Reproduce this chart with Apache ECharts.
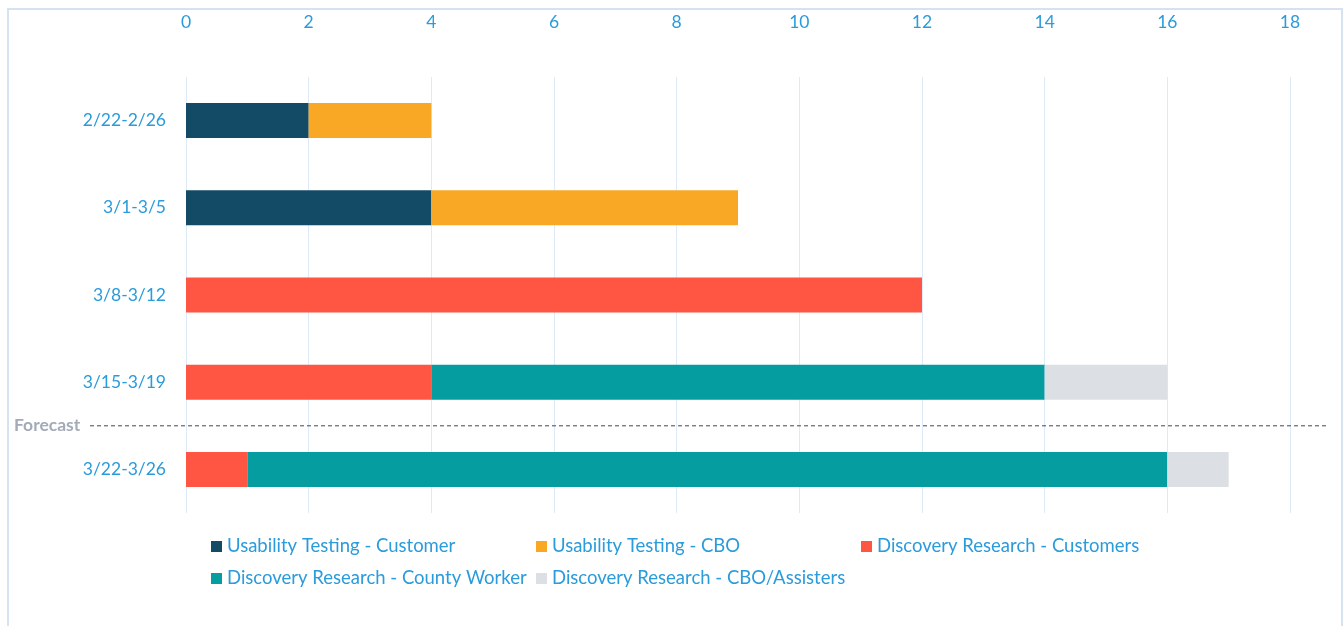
<!DOCTYPE html>
<html><head><meta charset="utf-8">
<script src="https://cdn.jsdelivr.net/npm/echarts@6/dist/echarts.min.js"></script>
<style>html,body{margin:0;padding:0;background:#fff}#c{width:1343px;height:626px}</style>
</head><body><div id="c"></div>
<script>
const categories = ['2/22-2/26', '3/1-3/5', '3/8-3/12', '3/15-3/19', '3/22-3/26'];
const seriesNames = ['Usability Testing - Customer', 'Usability Testing - CBO', 'Discovery Research - Customers', 'Discovery Research - County Worker', 'Discovery Research - CBO/Assisters'];
const utCustomer = [2, 4, 0, 0, 0];
const utCBO = [2, 5, 0, 0, 0];
const drCustomers = [0, 0, 12, 4, 1];
const drCountyWorker = [0, 0, 0, 10, 15];
const drCBOAssisters = [0, 0, 0, 2, 1];
const colors = ['#134A66', '#F9A825', '#FF5543', '#069DA0', '#DCDFE3'];
const forecastLabel = 'Forecast';

const values = [utCustomer, utCBO, drCustomers, drCountyWorker, drCBOAssisters];
const FONT = 'Lato';
const BLUE = '#2A9BDB';

const chart = echarts.init(document.getElementById('c'), null, {renderer: 'canvas'});
const legendPos = [[206, 532], [531, 532], [856, 532], [206, 564], [531, 564]];
const legends = seriesNames.map((n, i) => ({
  orient: 'horizontal', itemWidth: 11, itemHeight: 11, itemGap: 0,
  icon: 'rect', selectedMode: false,
  left: legendPos[i][0], top: legendPos[i][1], data: [n],
  textStyle: {color: BLUE, fontFamily: FONT, fontSize: 18.5, padding: [0, 0, 0, 0]}
}));
chart.setOption({
  animation: false,
  textStyle: {fontFamily: FONT},
  grid: {left: 186, right: 53, top: 77, height: 436, containLabel: false},
  legend: legends,
  xAxis: {
    type: 'value', position: 'top', min: 0, max: 18, interval: 2,
    axisLine: {show: false}, axisTick: {show: false},
    axisLabel: {color: BLUE, fontSize: 17.5, margin: 46, fontFamily: FONT},
    splitLine: {lineStyle: {color: '#DCEBF7', width: 1}}
  },
  yAxis: {
    type: 'category', data: categories, inverse: true,
    axisLine: {show: false}, axisTick: {show: false},
    axisLabel: {color: BLUE, fontSize: 17.5, margin: 20, fontFamily: FONT}
  },
  series: seriesNames.map((n, i) => ({
    name: n, type: 'bar', stack: 'total', data: values[i],
    barWidth: 35, itemStyle: {color: colors[i]}
  }))
});

function drawExtras() {
  const y3 = chart.convertToPixel({yAxisIndex: 0}, categories[3]);
  const y4 = chart.convertToPixel({yAxisIndex: 0}, categories[4]);
  const yf = (y3 + y4) / 2;
  chart.setOption({
    graphic: [
      {type: 'rect', shape: {x: 8, y: 9, width: 1334, height: 640}, style: {fill: 'none', stroke: '#D6E2F2', lineWidth: 2}, silent: true, z: 100},
      {type: 'line', shape: {x1: 90, y1: yf, x2: 1328, y2: yf}, style: {stroke: '#3A4A5A', lineWidth: 1, lineDash: [4, 3]}, silent: true, z: 100},
      {type: 'text', x: 14, y: yf, style: {text: forecastLabel, fill: '#A3AAB8', font: 'bold 17.5px ' + FONT, verticalAlign: 'middle'}, silent: true, z: 100}
    ]
  });
}
drawExtras();
</script></body></html>
